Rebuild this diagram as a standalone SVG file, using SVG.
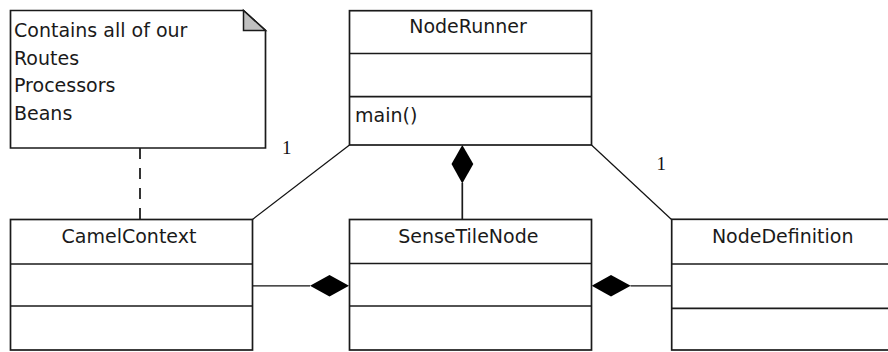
<svg xmlns="http://www.w3.org/2000/svg" width="888" height="352" viewBox="0 0 888 352">
  <defs>
    <style>
      .box { fill: #ffffff; stroke: #1a1a1a; stroke-width: 1.7; }
      .sep { stroke: #1a1a1a; stroke-width: 1.7; fill: none; }
      .name { font-family: "DejaVu Sans", Verdana, sans-serif; font-size: 19px; fill: #1a1a1a; text-anchor: middle; }
      .member { font-family: "DejaVu Sans", Verdana, sans-serif; font-size: 19px; fill: #1a1a1a; }
      .mult { font-family: "Liberation Serif", "Times New Roman", serif; font-size: 19px; fill: #111111; }
      .link { stroke: #111111; stroke-width: 1.2; fill: none; }
      .anchor { stroke: #111111; stroke-width: 1.7; fill: none; stroke-dasharray: 11 9; }
      .diamond { fill: #000000; stroke: none; }
    </style>
  </defs>

  <rect width="888" height="352" fill="#ffffff"/>

  <!-- connectors -->
  <g id="connectors">
    <!-- note anchor -->
    <line class="anchor" x1="140" y1="148" x2="140" y2="219.5"/>
    <!-- NodeRunner to CamelContext -->
    <line class="link" x1="349.5" y1="145" x2="252.5" y2="219.5"/>
    <text class="mult" x="282" y="154">1</text>
    <!-- NodeRunner to NodeDefinition -->
    <line class="link" x1="591.5" y1="145" x2="671.5" y2="219.5"/>
    <text class="mult" x="656.5" y="170">1</text>
    <!-- NodeRunner composes SenseTileNode -->
    <line class="sep" x1="462.3" y1="183" x2="462.3" y2="219.5"/>
    <polygon class="diamond" points="462.3,145 473.3,164 462.3,183.5 451.5,164"/>
    <!-- SenseTileNode composes CamelContext -->
    <line class="link" x1="252.5" y1="285.8" x2="310" y2="285.8"/>
    <polygon class="diamond" points="310,285.8 329.5,275 349,285.8 329.5,296.6"/>
    <!-- SenseTileNode composes NodeDefinition -->
    <line class="link" x1="630.5" y1="285.8" x2="671.5" y2="285.8"/>
    <polygon class="diamond" points="591.7,285.8 611,275 630.7,285.8 611,296.6"/>
  </g>

  <!-- note -->
  <g id="note">
    <path class="box" d="M10.5,10.5 H243.5 L265.5,30.5 V148 H10.5 Z"/>
    <path d="M243.5,10.5 V30.5 H265.5 Z" fill="#c0c0c0" stroke="#1a1a1a" stroke-width="1.5"/>
    <text class="member" x="14" y="37">Contains all of our</text>
    <text class="member" x="14" y="64.5">Routes</text>
    <text class="member" x="14" y="92">Processors</text>
    <text class="member" x="14" y="119.5">Beans</text>
  </g>

  <!-- NodeRunner -->
  <g id="NodeRunner">
    <rect class="box" x="349.5" y="10.7" width="242" height="134.3"/>
    <line class="sep" x1="349.5" y1="53.5" x2="591.5" y2="53.5"/>
    <line class="sep" x1="349.5" y1="96.7" x2="591.5" y2="96.7"/>
    <text class="name" x="468" y="33">NodeRunner</text>
    <text class="member" x="355" y="122">main()</text>
  </g>

  <!-- CamelContext -->
  <g id="CamelContext">
    <rect class="box" x="10.5" y="219.5" width="242" height="130.5"/>
    <line class="sep" x1="10.5" y1="264" x2="252.5" y2="264"/>
    <line class="sep" x1="10.5" y1="306" x2="252.5" y2="306"/>
    <text class="name" x="129" y="243">CamelContext</text>
  </g>

  <!-- SenseTileNode -->
  <g id="SenseTileNode">
    <rect class="box" x="349.5" y="219.5" width="242" height="130.5"/>
    <line class="sep" x1="349.5" y1="263.5" x2="591.5" y2="263.5"/>
    <line class="sep" x1="349.5" y1="306" x2="591.5" y2="306"/>
    <text class="name" x="468.3" y="243">SenseTileNode</text>
  </g>

  <!-- NodeDefinition -->
  <g id="NodeDefinition">
    <rect class="box" x="671.7" y="219.3" width="242" height="130.7"/>
    <line class="sep" x1="671.7" y1="264" x2="913.7" y2="264"/>
    <line class="sep" x1="671.7" y1="308.3" x2="913.7" y2="308.3"/>
    <text class="name" x="782.7" y="243">NodeDefinition</text>
  </g>
</svg>
